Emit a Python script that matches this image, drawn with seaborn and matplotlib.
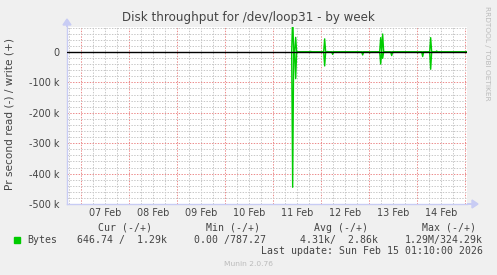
import matplotlib
matplotlib.use('Agg')
import matplotlib.pyplot as plt
import matplotlib.dates as mdates
import matplotlib.ticker as mticker
from matplotlib.patches import Rectangle, FancyArrow
import seaborn as sns
import pandas as pd
from datetime import datetime

sns.set_theme(style='white')
plt.rcParams['font.family'] = ['DejaVu Sans']

# ---------------- data ----------------
title = "Disk throughput for /dev/loop31 - by week"
ylabel = "Pr second read (-) / write (+)"
side_text = "RRDTOOL / TOBI OETIKER"
footer = "Munin 2.0.76"
last_update = "Last update: Sun Feb 15 01:10:00 2026"

event_times = ["2026-02-11 10:00", "2026-02-11 11:30", "2026-02-11 19:00",
               "2026-02-12 02:00", "2026-02-12 03:30", "2026-02-12 06:00",
               "2026-02-12 21:00", "2026-02-13 00:30", "2026-02-13 06:00",
               "2026-02-13 07:00", "2026-02-13 11:30", "2026-02-14 00:30",
               "2026-02-14 03:00", "2026-02-14 07:00", "2026-02-14 10:00",
               "2026-02-15 01:00"]
write_bytes = [120000, 48000, 2000, 43000, 1500, 0, 0, 0, 47000, 59000,
               0, 0, 0, 47000, 3000, 1290]
read_bytes = [445000, 88000, 0, 46000, 0, 8000, 10000, 3000, 40000, 21000,
              12000, 3000, 15000, 57000, 0, 647]
series_start = "2026-02-11 09:30"
series_end = "2026-02-15 01:00"
series_step = "30min"

x_start = datetime(2026, 2, 6, 17, 10)
x_end = datetime(2026, 2, 15, 1, 10)
y_min, y_max = -500000, 82000

legend_name = "Bytes"
legend_headers = ["Cur (-/+)", "Min (-/+)", "Avg (-/+)", "Max (-/+)"]
legend_values = ["646.74 /  1.29k", "0.00 /787.27", "4.31k/  2.86k", "1.29M/324.29k"]

line_color = "#00cc00"

# ---------------- build frame ----------------
idx = pd.date_range(series_start, series_end, freq=series_step)
ev = pd.DataFrame({"write": write_bytes, "read": read_bytes},
                  index=pd.to_datetime(event_times))
full = ev.reindex(idx, fill_value=0)
long = pd.concat([
    pd.DataFrame({"time": idx, "value": full["write"].values, "dir": "write"}),
    pd.DataFrame({"time": idx, "value": -full["read"].values, "dir": "read"}),
], ignore_index=True)

# ---------------- figure ----------------
W, H = 497, 275
fig = plt.figure(figsize=(W / 100, H / 100), dpi=100, facecolor="#f0f0f0")
ax = fig.add_axes([67 / W, 1 - 204 / H, 400 / W, 177 / H])
ax.set_facecolor("white")

sns.lineplot(data=long, x="time", y="value", hue="dir",
             palette={"write": line_color, "read": line_color},
             legend=False, lw=1.0, ax=ax, zorder=2, estimator=None)

ax.axhline(0, color="black", lw=1.0, zorder=3)

ax.set_xlim(x_start, x_end)
ax.set_ylim(y_min, y_max)

ax.xaxis.set_major_locator(mdates.DayLocator())
ax.xaxis.set_major_formatter(mticker.NullFormatter())
ax.xaxis.set_minor_locator(mdates.HourLocator(byhour=[6, 12, 18]))


def xfmt(v, pos):
    d = mdates.num2date(v)
    return d.strftime("%d %b") if d.hour == 12 else ""


ax.xaxis.set_minor_formatter(mticker.FuncFormatter(xfmt))

ax.yaxis.set_major_locator(mticker.MultipleLocator(100000))
ax.yaxis.set_minor_locator(mticker.MultipleLocator(20000))
ax.yaxis.set_major_formatter(mticker.FuncFormatter(
    lambda v, p: "0" if abs(v) < 1 else f"{int(round(v / 1000))} k"))

dash = (0, (1.39, 1.39))
ax.grid(which="major", color="#ec8c8c", lw=0.72, linestyle=dash, zorder=1)
ax.grid(which="minor", color="#c8c8c8", lw=0.72, linestyle=dash, zorder=1)
ax.set_axisbelow(True)

ax.tick_params(axis="both", which="both", length=0, labelsize=6.9,
               labelcolor="#444444")
ax.tick_params(axis="y", which="major", pad=5.5)
ax.tick_params(axis="x", which="minor", pad=3.2)

for s in ["top", "right"]:
    ax.spines[s].set_visible(False)
for s in ["left", "bottom"]:
    ax.spines[s].set_color("#c8ccf4")
    ax.spines[s].set_linewidth(1.0)
ax.set_xlabel("")
ax.set_ylabel("")

# axis arrows
fig.patches.append(FancyArrow(467 / W, 1 - 204 / H, 5 / W, 0, width=0.0,
                              head_width=8 / H, head_length=6 / W,
                              length_includes_head=False, color="#c8ccf4",
                              transform=fig.transFigure, figure=fig))
fig.patches.append(FancyArrow(67 / W, 1 - 27 / H, 0, 2 / H, width=0.0,
                              head_width=8 / W, head_length=6 / H,
                              length_includes_head=False, color="#c8ccf4",
                              transform=fig.transFigure, figure=fig))

# texts
fig.text(248 / W, 1 - 17 / H, title, ha="center", va="center",
         fontsize=8.6, color="#444444")
fig.text(10 / W, 1 - 114 / H, ylabel, ha="center", va="center",
         rotation=90, fontsize=7.6, color="#444444")
fig.text(487 / W, 1 - 53 / H, side_text, ha="center", va="center",
         rotation=270, fontsize=5.3, color="#bbbbbb")

mono = "DejaVu Sans Mono"
hdr_right = [152, 260, 368, 476]
val_right = [167, 266, 378, 483]
for t, xr in zip(legend_headers, hdr_right):
    fig.text(xr / W, 1 - 228 / H, t, ha="right", va="center",
             fontsize=7.1, family=mono, color="#444444")
for t, xr in zip(legend_values, val_right):
    fig.text(xr / W, 1 - 240 / H, t, ha="right", va="center",
             fontsize=7.1, family=mono, color="#444444")
fig.text(27 / W, 1 - 240 / H, legend_name, ha="left", va="center",
         fontsize=7.1, family=mono, color="#444444")
fig.patches.append(Rectangle((14 / W, 1 - 243 / H), 6 / W, 6 / H,
                             color=line_color, transform=fig.transFigure,
                             figure=fig))
fig.text(483 / W, 1 - 251 / H, last_update, ha="right", va="center",
         fontsize=7.1, family=mono, color="#444444")
fig.text(248 / W, 1 - 264 / H, footer, ha="center", va="center",
         fontsize=5.4, color="#bbbbbb")

fig.savefig("out.png", dpi=100, facecolor=fig.get_facecolor())
